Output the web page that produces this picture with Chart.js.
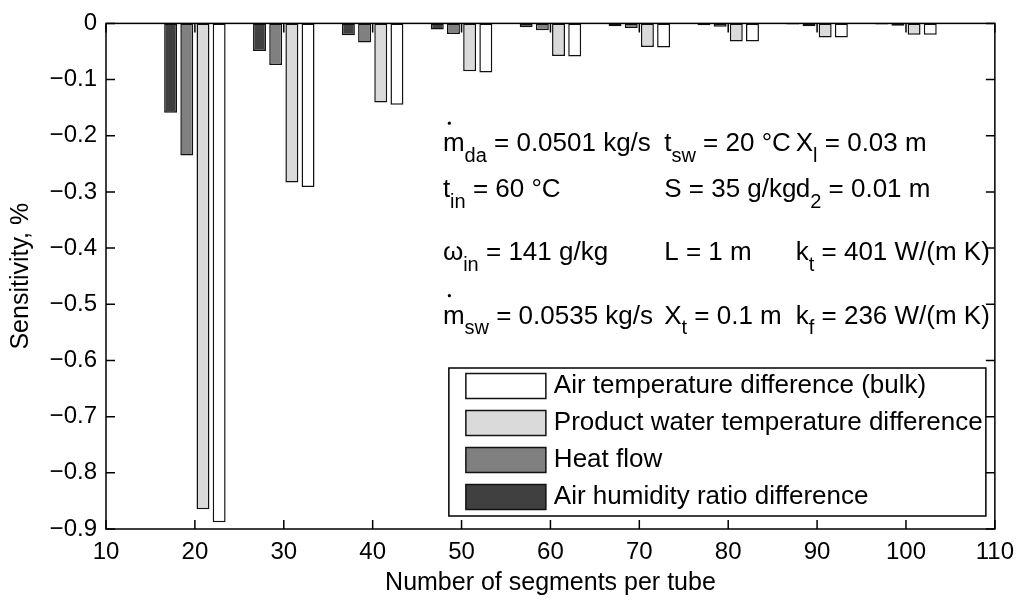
<!DOCTYPE html>
<html>
<head>
<meta charset="utf-8">
<script src="https://cdn.jsdelivr.net/npm/chart.js@4.4.1/dist/chart.umd.min.js"></script>
<style>
html, body { margin: 0; padding: 0; background: #fff; }
#wrap { width: 1023px; height: 601px; position: relative; }
</style>
</head>
<body>
<div id="wrap"><canvas id="canvas"></canvas></div>
<script>
// data (sensitivity in %)
var segments = [20, 30, 40, 50, 60, 70, 80, 90, 100];
var humidityDiff  = [-0.159, -0.049, -0.021, -0.011, -0.007, -0.005, -0.0035, -0.002, -0.002];
var heatFlow      = [-0.235, -0.074, -0.034, -0.019, -0.012, -0.008, -0.006, -0.005, -0.004];
var waterTempDiff = [-0.865, -0.283, -0.141, -0.085, -0.058, -0.042, -0.032, -0.025, -0.020];
var airTempDiff   = [-0.888, -0.291, -0.145, -0.0875, -0.059, -0.043, -0.032, -0.025, -0.020];

var seriesNames = ["Air humidity ratio difference", "Heat flow",
                   "Product water temperature difference", "Air temperature difference (bulk)"];
var seriesColors = ["#404040", "#808080", "#dadada", "#ffffff"];

var xTicks = [10, 20, 30, 40, 50, 60, 70, 80, 90, 100, 110];
var yTicks = [0, -0.1, -0.2, -0.3, -0.4, -0.5, -0.6, -0.7, -0.8, -0.9];

// input parameters printed in the plot, row by row, column by column
// each piece: [text, kind] kind: "" normal, "sub" subscript, "dot" letter with dot above
var paramRows = [
    [[["m", "dot"], ["da", "sub"], [" = 0.0501 kg/s", ""]],
     [["t", ""], ["sw", "sub"], [" = 20 °C", ""]],
     [["X", ""], ["l", "sub"], [" = 0.03 m", ""]]],
    [[["t", ""], ["in", "sub"], [" = 60 °C", ""]],
     [["S = 35 g/kg", ""]],
     [["d", ""], ["2", "sub"], [" = 0.01 m", ""]]],
    [[["ω", ""], ["in", "sub"], [" = 141 g/kg", ""]],
     [["L = 1 m", ""]],
     [["k", ""], ["t", "sub"], [" = 401 W/(m K)", ""]]],
    [[["m", "dot"], ["sw", "sub"], [" = 0.0535 kg/s", ""]],
     [["X", ""], ["t", "sub"], [" = 0.1 m", ""]],
     [["k", ""], ["f", "sub"], [" = 236 W/(m K)", ""]]]
];
var paramColX = [47.9, 72.8, 87.6];
var paramRowY = [-0.215, -0.297, -0.409, -0.522];

var FONT = "'Liberation Sans', Arial, Helvetica, sans-serif";

function fmt(v) {
    var s = (Math.round(v * 10) / 10).toString();
    return s.replace("-", "\u2212");
}

var datasets = [];
[humidityDiff, heatFlow, waterTempDiff, airTempDiff].forEach(function (vals, i) {
    datasets.push({
        label: seriesNames[i],
        data: segments.map(function (s, j) { return { x: s, y: vals[j] }; }),
        backgroundColor: seriesColors[i],
        borderColor: "#111",
        borderWidth: 1.5,
        borderSkipped: false,
        categoryPercentage: 0.728,
        barPercentage: 0.8
    });
});

// box, inward ticks, text block and legend (drawn MATLAB style)
var matlabLook = {
    id: "matlabLook",
    afterDatasetsDraw: function (chart) {
        var ctx = chart.ctx, a = chart.chartArea;
        var xs = chart.scales.x, ys = chart.scales.y;
        ctx.save();
        ctx.strokeStyle = "#000";
        ctx.lineWidth = 1.5;
        ctx.strokeRect(a.left, a.top, a.right - a.left, a.bottom - a.top);
        ctx.beginPath();
        xTicks.forEach(function (t) {
            var px = xs.getPixelForValue(t);
            ctx.moveTo(px, a.bottom); ctx.lineTo(px, a.bottom - 9);
            ctx.moveTo(px, a.top); ctx.lineTo(px, a.top + 9);
        });
        yTicks.forEach(function (t) {
            var py = ys.getPixelForValue(t);
            ctx.moveTo(a.left, py); ctx.lineTo(a.left + 9, py);
            ctx.moveTo(a.right, py); ctx.lineTo(a.right - 9, py);
        });
        ctx.stroke();

        // parameter text
        ctx.fillStyle = "#000";
        ctx.textBaseline = "middle";
        ctx.textAlign = "left";
        paramRows.forEach(function (row, r) {
            row.forEach(function (cell, c) {
                var x = xs.getPixelForValue(paramColX[c]);
                var y = ys.getPixelForValue(paramRowY[r]);
                cell.forEach(function (p) {
                    if (p[1] === "sub") {
                        ctx.font = "20px " + FONT;
                        ctx.fillText(p[0], x, y + 12);
                    } else {
                        ctx.font = "26px " + FONT;
                        ctx.fillText(p[0], x, y);
                        if (p[1] === "dot") {
                            var w0 = ctx.measureText(p[0]).width;
                            ctx.beginPath();
                            ctx.arc(x + w0 * 0.3, y - 21, 1.6, 0, Math.PI * 2);
                            ctx.fill();
                        }
                    }
                    x += ctx.measureText(p[0]).width;
                });
            });
        });

        // legend, reversed order like the original
        var lw = 537, lh = 148;
        var lx = a.right - 9 - lw, ly = a.bottom - 13 - lh;
        ctx.fillStyle = "#fff";
        ctx.fillRect(lx, ly, lw, lh);
        ctx.lineWidth = 1.5;
        ctx.strokeRect(lx, ly, lw, lh);
        ctx.font = "26px " + FONT;
        for (var k = 0; k < 4; k++) {
            var i = 3 - k;
            var cy = ly + 18 + k * 37;
            ctx.fillStyle = seriesColors[i];
            ctx.fillRect(lx + 17, cy - 12.5, 80, 25);
            ctx.strokeStyle = "#111";
            ctx.strokeRect(lx + 17, cy - 12.5, 80, 25);
            ctx.fillStyle = "#000";
            ctx.fillText(seriesNames[i], lx + 105, cy);
        }
        ctx.restore();
    }
};

new Chart(document.getElementById("canvas"), {
    type: "bar",
    data: { datasets: datasets },
    options: {
        responsive: true,
        maintainAspectRatio: false,
        animation: false,
        layout: { padding: { left: 0, right: 27, top: 18, bottom: 0 } },
        plugins: { legend: { display: false }, tooltip: { enabled: false } },
        scales: {
            x: {
                type: "linear",
                min: 10, max: 110,
                offset: false,
                afterBuildTicks: function (s) { s.ticks = xTicks.map(function (v) { return { value: v }; }); },
                afterFit: function (s) { s.height = 72; },
                grid: { display: false, drawTicks: false },
                border: { display: false },
                ticks: { color: "#000", padding: 9, maxRotation: 0, autoSkip: false,
                         font: { family: FONT, size: 24 } },
                title: { display: true, text: "Number of segments per tube", color: "#000",
                         padding: { top: 0, bottom: 3 }, font: { family: FONT, size: 25 } }
            },
            y: {
                min: -0.9, max: 0,
                afterBuildTicks: function (s) { s.ticks = yTicks.map(function (v) { return { value: v }; }); },
                afterFit: function (s) { s.width = 106; },
                grid: { display: false, drawTicks: false },
                border: { display: false },
                ticks: { color: "#000", padding: 9, autoSkip: false,
                         font: { family: FONT, size: 24 },
                         callback: function (v) { return fmt(v); } },
                title: { display: true, text: "Sensitivity, %", color: "#000",
                         padding: { top: 6, bottom: 0 }, font: { family: FONT, size: 25 } }
            }
        }
    },
    plugins: [matlabLook]
});
</script>
</body>
</html>
